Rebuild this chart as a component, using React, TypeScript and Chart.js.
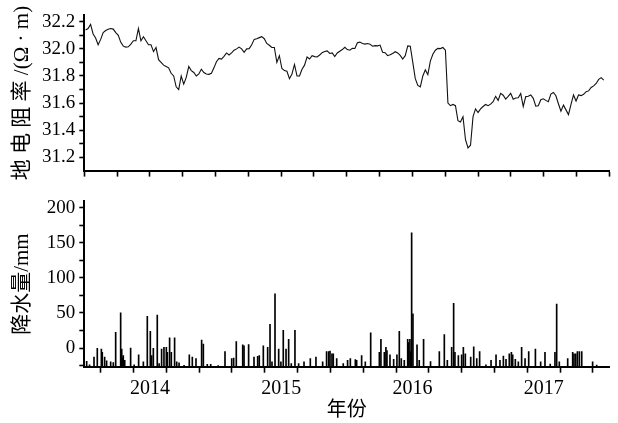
import React, { useEffect, useRef } from 'react';
import { Chart, registerables } from 'chart.js';

Chart.register(...registerables);

// Earth resistivity (Ω·m), weekly samples starting from resistStart
const resistStart = '2013-07-06';
const resistStepDays = 7;
const resistValues = [
  32.14, 32.15, 32.18, 32.11, 32.08, 32.03, 32.07, 32.12, 32.135, 32.145,
  32.15, 32.146, 32.12, 32.10, 32.048, 32.02, 32.013, 32.015, 32.035, 32.06,
  32.06, 32.15, 32.06, 32.09, 32.06, 32.03, 32.03, 31.98, 32.01, 31.92,
  31.90, 31.88, 31.87, 31.86, 31.82, 31.80, 31.72, 31.70, 31.80, 31.74,
  31.79, 31.87, 31.84, 31.826, 31.80, 31.815, 31.85, 31.825, 31.815, 31.812,
  31.82, 31.86, 31.905, 31.93, 31.925, 31.945, 31.97, 31.955, 31.97, 31.99,
  32.00, 32.013, 32.00, 31.975, 32.00, 32.002, 32.03, 32.07, 32.075, 32.083,
  32.09, 32.075, 32.04, 32.027, 32.01, 32.01, 31.90, 31.95, 31.855, 31.84,
  31.835, 31.78, 31.815, 31.885, 31.80, 31.80, 31.85, 31.88, 31.94, 31.925,
  31.95, 31.943, 31.94, 31.955, 31.972, 31.98, 31.985, 31.966, 31.97, 31.943,
  31.97, 31.983, 31.995, 32.012, 31.995, 31.99, 32.004, 32.003, 32.045, 32.05,
  32.04, 32.035, 32.04, 32.035, 32.02, 32.024, 32.022, 32.028, 31.975, 31.972,
  31.95, 31.957, 31.966, 31.979, 31.97, 31.952, 31.925, 31.95, 32.022, 32.02,
  31.90, 31.78, 31.73, 31.72, 31.80, 31.845, 31.81, 31.91, 31.96, 31.99,
  32.004, 32.002, 32.01, 31.99, 31.60, 31.581, 31.59, 31.581, 31.47, 31.46,
  31.50, 31.33, 31.27, 31.289, 31.50, 31.557, 31.53, 31.557, 31.575, 31.59,
  31.581, 31.592, 31.61, 31.65, 31.62, 31.672, 31.658, 31.63, 31.65, 31.672,
  31.628, 31.638, 31.64, 31.67, 31.575, 31.648, 31.65, 31.66, 31.635, 31.578,
  31.58, 31.625, 31.632, 31.62, 31.61, 31.667, 31.678, 31.654, 31.595, 31.54,
  31.585, 31.55, 31.515, 31.59, 31.66, 31.615, 31.66, 31.655, 31.665, 31.684,
  31.69, 31.715, 31.727, 31.745, 31.775, 31.788, 31.77,
];

// Precipitation events: decimal year and amount (mm)
const rainYears = [
  2013.518, 2013.540, 2013.574, 2013.599, 2013.630, 2013.637, 2013.655, 2013.670, 2013.701, 2013.721,
  2013.739, 2013.777, 2013.782, 2013.785, 2013.790, 2013.797, 2013.808, 2013.853, 2013.880, 2013.914,
  2013.950, 2013.980, 2014.003, 2014.013, 2014.026, 2014.056, 2014.070, 2014.089, 2014.107, 2014.125,
  2014.133, 2014.150, 2014.163, 2014.188, 2014.204, 2014.222, 2014.260, 2014.300, 2014.323, 2014.351,
  2014.394, 2014.407, 2014.437, 2014.463, 2014.520, 2014.572, 2014.623, 2014.638, 2014.658, 2014.707,
  2014.717, 2014.752, 2014.793, 2014.821, 2014.833, 2014.864, 2014.897, 2014.915, 2014.930, 2014.953,
  2014.981, 2014.998, 2015.016, 2015.037, 2015.057, 2015.077, 2015.105, 2015.133, 2015.174, 2015.222,
  2015.265, 2015.316, 2015.346, 2015.362, 2015.372, 2015.387, 2015.397, 2015.423, 2015.473, 2015.506,
  2015.527, 2015.565, 2015.575, 2015.613, 2015.641, 2015.682, 2015.748, 2015.760, 2015.786, 2015.798,
  2015.806, 2015.829, 2015.857, 2015.882, 2015.900, 2015.915, 2015.938, 2015.964, 2015.971, 2015.981,
  2015.987, 2015.994, 2016.004, 2016.035, 2016.052, 2016.085, 2016.138, 2016.205, 2016.243, 2016.266,
  2016.299, 2016.314, 2016.324, 2016.350, 2016.375, 2016.388, 2016.403, 2016.444, 2016.467, 2016.490,
  2016.512, 2016.560, 2016.599, 2016.637, 2016.667, 2016.693, 2016.713, 2016.738, 2016.754, 2016.764,
  2016.784, 2016.807, 2016.832, 2016.858, 2016.886, 2016.937, 2016.977, 2017.010, 2017.050, 2017.086,
  2017.099, 2017.119, 2017.183, 2017.221, 2017.231, 2017.244, 2017.257, 2017.272, 2017.290, 2017.373,
  2017.404,
];
const rainMm = [
  -18.8, -24, -12.9, -0.5, -1.4, -6.0, -12.9, -18.4, -19.7, -20.7,
  22.4, 50.3, -8, -1.4, -14, -10.6, -17.4, 0, -24, -9.7,
  -19.7, 45.3, 23.8, -10.6, -0.5, 47.1, -22, -1.4, 0.9, 0.9,
  -6.0, 14.6, -6.0, 14.6, -19.7, -21.1, -24.5, -9.7, -12.9, -15.2,
  11.4, 5.5, -23.4, -23.4, -25, -5.1, -15.2, -14.3, 9.1, 4.5,
  3.2, 5.0, -12.9, -11.9, -10.6, 3.2, 0.9, 33.8, -19.7, 77.3,
  -1.4, -19.7, 25.1, -1.4, 12.3, -22.0, 25.1, -22.0, -19.7, -15.2,
  -12.9, -19.7, -5.1, -5.1, -4.2, -8.3, -8.3, -15.2, -22.0, -17.4,
  -15.2, -16.5, -17.4, -10.6, -19.7, 21.5, -6.0, 12.3, -6.0, 0.9,
  -3.7, -9.7, -16.1, -9.7, 23.8, -15.2, -17.4, 12.3, 7.7, 12.3,
  -5, 164.3, 48.9, 4.5, -17.4, 12.3, -19.2, -5.1, 19.2, -17.4,
  0.9, 63.6, -6.0, -10.6, -9.7, 0.9, -8.3, -12.9, 1.8, -15.2,
  -5.1, -24, -17.4, -9.7, -17.4, -11.5, -16.1, -8.3, -6.0, -9.7,
  -16.1, -19.7, 0.9, -15.2, -5.1, -1.4, -19.7, -6.0, -23, -6.0,
  62.7, -19.7, -15.2, -6.0, -8.3, -8.3, -5.1, -5.1, -5.1, -19.7,
  -24.3,
];

const yearLabels = [2014, 2015, 2016, 2017];

const X_MIN = 2013.5;
const X_MAX = 2017.5;
const RES_MIN = 31.102;
const RES_MAX = 32.247;
const RAIN_MIN = -26.6;
const RAIN_MAX = 209;

const SERIF = "'Liberation Serif', 'Noto Sans CJK SC', serif";

function toDecimalYear(ms: number): number {
  const y = new Date(ms).getUTCFullYear();
  const s = Date.UTC(y, 0, 1);
  const e = Date.UTC(y + 1, 0, 1);
  return y + (ms - s) / (e - s);
}

const startMs = Date.parse(resistStart + 'T00:00:00Z');
const resistPoints = resistValues.map((v, i) => ({
  x: toDecimalYear(startMs + i * resistStepDays * 86400000),
  y: v,
}));
const rainPoints = rainYears.map((x, i) => ({ x, y: rainMm[i] }));

function xAxis(showLabels: boolean, height: number, title?: string): any {
  return {
    type: 'linear',
    min: X_MIN,
    max: X_MAX,
    offset: false,
    afterFit: (s: any) => {
      s.height = height;
    },
    ticks: {
      stepSize: 0.25,
      includeBounds: false,
      autoSkip: false,
      maxRotation: 0,
      color: '#000',
      padding: 4,
      font: { family: SERIF, size: 20 },
      callback: (v: number) => {
        if (!showLabels) return '';
        const r = Math.round(v * 4) / 4;
        return yearLabels.includes(r) ? String(r) : '';
      },
    },
    grid: { drawOnChartArea: false, drawTicks: true, tickLength: 6, tickColor: '#000', tickWidth: 1.6 },
    border: { display: true, color: '#000', width: 2 },
    title: title
      ? { display: true, text: title, color: '#000', font: { family: SERIF, size: 20 }, padding: { top: 0, bottom: 0 } }
      : { display: false },
  };
}

function yAxis(min: number, max: number, step: number, label: (v: number) => string, title: string): any {
  return {
    type: 'linear',
    min,
    max,
    afterFit: (s: any) => {
      s.width = 84.3;
    },
    ticks: {
      stepSize: step,
      includeBounds: false,
      autoSkip: false,
      color: '#000',
      padding: 4,
      font: { family: SERIF, size: 19 },
      callback: label,
    },
    grid: { drawOnChartArea: false, drawTicks: true, tickLength: 5, tickColor: '#000', tickWidth: 1.6 },
    border: { display: true, color: '#000', width: 2 },
    title: { display: true, text: title, color: '#000', font: { family: SERIF, size: 21 }, padding: { top: 10, bottom: 0 } },
  };
}

export default function App() {
  const topRef = useRef<HTMLCanvasElement | null>(null);
  const botRef = useRef<HTMLCanvasElement | null>(null);

  useEffect(() => {
    const top = new Chart(topRef.current!, {
      type: 'line',
      data: {
        datasets: [
          {
            data: resistPoints,
            borderColor: '#111',
            borderWidth: 1.1,
            pointRadius: 0,
            tension: 0,
            fill: false,
          },
        ],
      },
      options: {
        animation: false,
        responsive: false,
        devicePixelRatio: 1,
        layout: { padding: { top: 15, right: 8.7, left: 0, bottom: 0 } },
        plugins: { legend: { display: false }, tooltip: { enabled: false } },
        scales: {
          x: xAxis(false, 7.7),
          y: yAxis(
            RES_MIN,
            RES_MAX,
            0.1,
            (v: number) => {
              const t = Math.round(v * 10);
              return t % 2 === 0 ? (t / 10).toFixed(1) : '';
            },
            '地 电 阻 率 /(Ω · m)'
          ),
        },
      } as any,
    });

    const bottom = new Chart(botRef.current!, {
      type: 'bar',
      data: {
        datasets: [
          {
            data: rainPoints,
            backgroundColor: '#000',
            borderWidth: 0,
            barThickness: 1,
            base: RAIN_MIN,
          } as any,
        ],
      },
      options: {
        animation: false,
        responsive: false,
        devicePixelRatio: 1,
        layout: { padding: { top: 9, right: 8.7, left: 0, bottom: 0 } },
        plugins: { legend: { display: false }, tooltip: { enabled: false } },
        scales: {
          x: xAxis(true, 56.3, '年份'),
          y: yAxis(
            RAIN_MIN,
            RAIN_MAX,
            25,
            (v: number) => {
              const t = Math.round(v);
              return t % 50 === 0 && t >= 0 ? String(t) : '';
            },
            '降水量/mm'
          ),
        },
      } as any,
    });

    return () => {
      top.destroy();
      bottom.destroy();
    };
  }, []);

  return (
    <div style={{ position: 'fixed', left: 0, top: 0, width: 618, height: 423, background: '#fff' }}>
      <canvas ref={topRef} width={618} height={186} style={{ display: 'block' }} />
      <canvas ref={botRef} width={618} height={237} style={{ display: 'block' }} />
    </div>
  );
}
